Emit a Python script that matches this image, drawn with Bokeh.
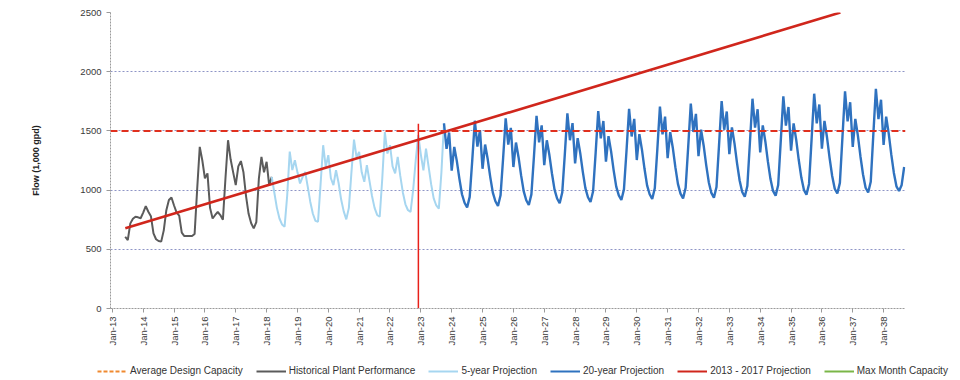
import math
from bokeh.plotting import figure
from bokeh.layouts import column, row
from bokeh.models import Range1d, FixedTicker, Legend, LegendItem, Span
from bokeh.embed import file_html
from bokeh.resources import INLINE

# ---------------- data ----------------
tick_years = [2013, 2014, 2015, 2016, 2017, 2018, 2019, 2020, 2021, 2022, 2023, 2024, 2025,
              2026, 2027, 2028, 2029, 2030, 2031, 2032, 2033, 2034, 2035, 2036, 2037, 2038]
tick_labels = ["Jan-13", "Jan-14", "Jan-15", "Jan-16", "Jan-17", "Jan-18", "Jan-19", "Jan-20",
               "Jan-21", "Jan-22", "Jan-23", "Jan-24", "Jan-25", "Jan-26", "Jan-27", "Jan-28",
               "Jan-29", "Jan-30", "Jan-31", "Jan-32", "Jan-33", "Jan-34", "Jan-35", "Jan-36",
               "Jan-37", "Jan-38"]
y_ticks = [0, 500, 1000, 1500, 2000, 2500]

# Historical Plant Performance, monthly from Jun 2013
hist_start = (2013, 6)
historical = [
    606, 578, 719, 758, 775, 770, 762,
    810, 865, 817, 780, 635, 585, 570, 565, 660, 830, 916, 938,
    870, 810, 785, 640, 612, 612, 612, 612, 630, 1010, 1365, 1250,
    1100, 1141, 850, 760, 790, 815, 789, 750, 1100, 1421, 1260, 1150,
    1042, 1200, 1245, 1150, 950, 800, 720, 677, 730, 1100, 1281, 1150,
    1239, 1042, 1112,
]

# 5-year Projection, monthly from Mar 2018
proj5_start = (2018, 3)
projection_5yr = [
    1112, 980, 850, 760, 710, 691, 950, 1325, 1169, 1253,
    1150, 1056, 1110, 1154, 1030, 900, 800, 740, 733, 1050, 1379, 1196,
    1295, 1100, 1042, 1169, 1060, 920, 820, 753, 850, 1150, 1427, 1276,
    1323, 1150, 1070, 1211, 1080, 950, 850, 790, 775, 1100, 1490, 1309,
    1379, 1200, 1141, 1281, 1120, 980, 880, 830, 817, 1000, 1250, 1465,
    1300, 1166, 1350, 1200, 1050, 930, 870, 843, 1150, 1564,
]

# 20-year Projection, monthly from Oct 2023
proj20_start = (2023, 10)
projection_20yr = [
    1564, 1348, 1486, 1164, 1365, 1245, 1095, 965, 893, 853, 943, 1253,
    1586, 1367, 1507, 1180, 1385, 1262, 1110, 979, 906, 866, 956, 1269,
    1606, 1384, 1526, 1195, 1402, 1278, 1124, 991, 914, 874, 964, 1286,
    1628, 1403, 1547, 1211, 1421, 1296, 1140, 1004, 929, 889, 979, 1302,
    1648, 1421, 1566, 1226, 1439, 1312, 1154, 1017, 940, 900, 990, 1317,
    1667, 1437, 1584, 1240, 1455, 1327, 1167, 1029, 956, 916, 1006, 1332,
    1686, 1453, 1602, 1254, 1472, 1342, 1180, 1040, 965, 925, 1015, 1348,
    1706, 1471, 1621, 1269, 1489, 1358, 1194, 1053, 970, 930, 1020, 1367,
    1730, 1491, 1644, 1287, 1510, 1377, 1211, 1067, 976, 936, 1026, 1384,
    1752, 1510, 1664, 1303, 1529, 1395, 1226, 1081, 984, 944, 1034, 1400,
    1772, 1527, 1683, 1318, 1547, 1411, 1240, 1093, 993, 953, 1043, 1416,
    1792, 1545, 1702, 1333, 1564, 1426, 1254, 1106, 1002, 962, 1052, 1433,
    1814, 1564, 1723, 1350, 1584, 1444, 1270, 1119, 1011, 971, 1061, 1449,
    1834, 1581, 1742, 1364, 1601, 1460, 1284, 1132, 1020, 980, 1070, 1466,
    1856, 1600, 1763, 1381, 1620, 1477, 1299, 1145, 1032, 992, 1040, 1195,
]

design_capacity = 1500
trend_x = [2013.42, 2036.6]      # 2013 - 2017 projection (linear trend)
trend_y = [678, 2500]
cutoff_x = 2022.92               # red vertical marker
cutoff_top = 1560

legend_labels = ["Average Design Capacity", "Historical Plant Performance", "5-year Projection",
                 "20-year Projection", "2013 - 2017 Projection", "Max Month Capacity"]


def month_x(start, n):
    y, m = start
    return [y + (m - 1 + i) / 12.0 for i in range(n)]


# styles
C_DESIGN, C_DESIGN_LEG = "#e0301e", "#f08a30"
C_HIST, C_P5, C_P20, C_TREND, C_MAX = "#5b5b5b", "#a6d6f0", "#2f72bf", "#d0261c", "#7ab648"
FONT = "Liberation Sans"

# ---------------- main figure ----------------
p = figure(width=960, height=352,
           x_range=Range1d(2012.94, 2038.71), y_range=Range1d(0, 2500),
           output_backend="svg", toolbar_location=None,
           min_border_left=110, min_border_right=55,
           min_border_top=12, min_border_bottom=44)
p.outline_line_color = None
p.background_fill_color = "white"
p.border_fill_color = "white"

p.xgrid.visible = False
p.ygrid.grid_line_color = "#8e95c6"
p.ygrid.grid_line_dash = "2 2"
p.ygrid.grid_line_width = 1
p.ygrid.ticker = FixedTicker(ticks=y_ticks)

p.xaxis.ticker = FixedTicker(ticks=tick_years)
p.xaxis.major_label_overrides = {y: lab for y, lab in zip(tick_years, tick_labels)}
p.xaxis.major_label_orientation = math.pi / 2
p.xaxis.major_tick_out = 4
p.xaxis.major_tick_in = 0
p.xaxis.major_label_standoff = 4
p.yaxis.ticker = FixedTicker(ticks=y_ticks)
p.yaxis.major_tick_out = 4
p.yaxis.major_tick_in = 0
p.yaxis.major_label_standoff = 5

for ax in (p.xaxis[0], p.yaxis[0]):
    ax.minor_tick_line_color = None
    ax.axis_line_color = "#9a9a9a"
    ax.axis_line_dash = "2 1"
    ax.major_tick_line_color = "#9a9a9a"
    ax.major_label_text_font = FONT
    ax.major_label_text_font_size = "9.5px"
    ax.major_label_text_color = "#3a3a3a"

p.yaxis.axis_label = "Flow (1,000 gpd)"
p.yaxis.axis_label_text_font = FONT
p.yaxis.axis_label_text_font_size = "9px"
p.yaxis.axis_label_text_font_style = "bold"
p.yaxis.axis_label_text_color = "#222222"
p.yaxis.axis_label_standoff = 36

p.line(month_x(hist_start, len(historical)), historical, line_color=C_HIST, line_width=2)
p.line(month_x(proj5_start, len(projection_5yr)), projection_5yr, line_color=C_P5, line_width=2)
p.line(month_x(proj20_start, len(projection_20yr)), projection_20yr, line_color=C_P20, line_width=2.4)
p.line(trend_x, trend_y, line_color=C_TREND, line_width=2.6)
p.add_layout(Span(location=design_capacity, dimension="width",
                  line_color=C_DESIGN, line_dash="7 4", line_width=2))
p.segment(x0=[cutoff_x], y0=[0], x1=[cutoff_x], y1=[cutoff_top],
          line_color="#e8201a", line_width=1.5)

# ---------------- legend strip ----------------
lg = figure(width=960, height=28, x_range=Range1d(0, 1), y_range=Range1d(0, 1),
            x_axis_type=None, y_axis_type=None,
            output_backend="svg", toolbar_location=None,
            min_border_left=0, min_border_right=0, min_border_top=0, min_border_bottom=0)
lg.grid.visible = False
lg.outline_line_color = None
lg.border_fill_color = "white"

styles = [dict(line_color=C_DESIGN_LEG, line_dash="4 2", line_width=2),
          dict(line_color=C_HIST, line_width=2),
          dict(line_color=C_P5, line_width=2),
          dict(line_color=C_P20, line_width=2),
          dict(line_color=C_TREND, line_width=2),
          dict(line_color=C_MAX, line_width=2)]
items = []
for lab, st in zip(legend_labels, styles):
    r = lg.line([5, 6], [5, 5], **st)   # outside the visible range: legend swatch only
    items.append(LegendItem(label=lab, renderers=[r]))

legend = Legend(items=items, orientation="horizontal", location=(97, 4))
legend.label_text_font = FONT
legend.label_text_font_size = "10px"
legend.label_text_color = "#333333"
legend.glyph_width = 30
legend.glyph_height = 10
legend.label_standoff = 3
legend.spacing = 13
legend.padding = 0
legend.margin = 0
legend.border_line_color = None
legend.background_fill_alpha = 0
lg.add_layout(legend)

layout = column(p, row(lg), spacing=0)
open("out.html", "w").write(file_html(layout, INLINE))
